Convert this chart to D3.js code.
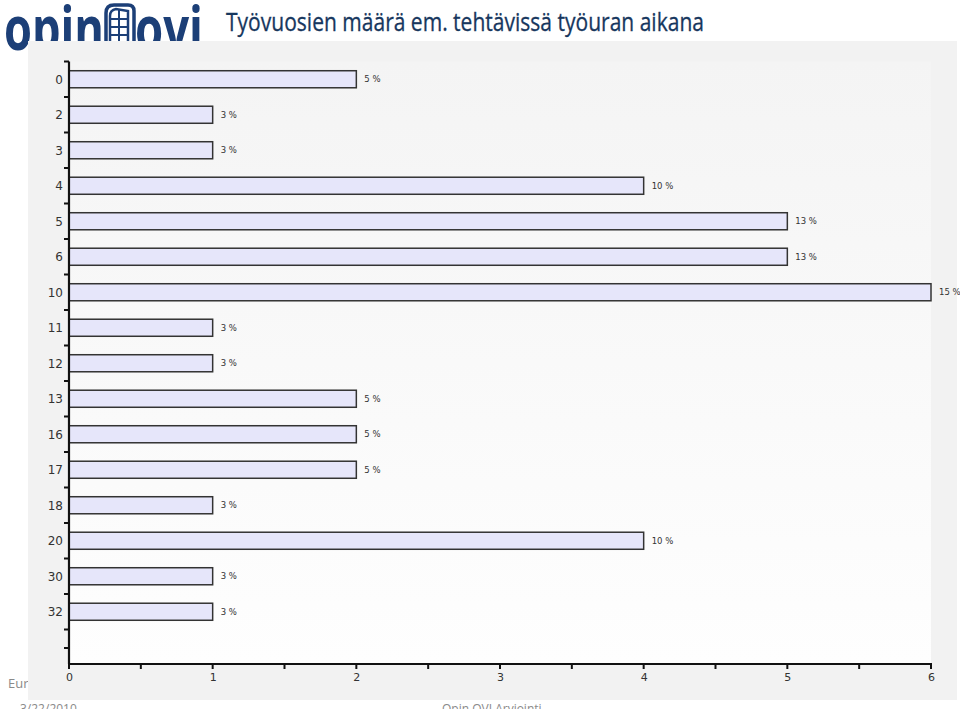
<!DOCTYPE html>
<html><head><meta charset="utf-8">
<script src="https://cdn.jsdelivr.net/npm/d3@7"></script>
<style>
html,body{margin:0;padding:0;background:#fff;overflow:hidden}
svg{display:block}
</style></head>
<body>
<script>
const categories = ["0","2","3","4","5","6","10","11","12","13","16","17","18","20","30","32"];
const values = [2,1,1,4,5,5,6,1,1,2,2,2,1,4,1,1];
const percentLabels = ["5 %","3 %","3 %","10 %","13 %","13 %","15 %","3 %","3 %","5 %","5 %","5 %","3 %","10 %","3 %","3 %"];
const xTicks = [0,1,2,3,4,5,6];
const titleText = "Työvuosien määrä em. tehtävissä työuran aikana";

const W = 960, H = 709;
const svg = d3.select("body").append("svg").attr("width", W).attr("height", H);

// footer texts (partially hidden behind panel, as in the reference)
svg.append("text").attr("x", 8).attr("y", 688).attr("font-family", "Open Sans, sans-serif")
  .attr("font-size", 13).attr("fill", "#8a8a8a").text("Euro");
svg.append("text").attr("x", 20).attr("y", 713).attr("font-family", "Open Sans, sans-serif")
  .attr("font-size", 12).attr("fill", "#8a8a8a").text("3/22/2010");
svg.append("text").attr("x", 442).attr("y", 713).attr("font-family", "Open Sans, sans-serif")
  .attr("font-size", 12).attr("fill", "#8a8a8a").text("Opin OVI Arviointi");

// logo
const logo = svg.append("g");
const logoColor = "#1c3f77";
logo.append("text").attr("x", 4).attr("y", 50).attr("font-family", "Open Sans, sans-serif")
  .attr("font-weight", "bold").attr("font-size", 60).attr("fill", logoColor)
  .attr("textLength", 100).attr("lengthAdjust", "spacingAndGlyphs").text("opin");
logo.append("text").attr("x", 135).attr("y", 50).attr("font-family", "Open Sans, sans-serif")
  .attr("font-weight", "bold").attr("font-size", 60).attr("fill", logoColor)
  .attr("textLength", 68).attr("lengthAdjust", "spacingAndGlyphs").text("ovi");
// door icon
const dg = logo.append("g");
dg.append("path").attr("d", "M106,44 L106,13 Q106,5 114,5 L128,5 Q134,5 134,11 L134,44 Z")
  .attr("fill", "none").attr("stroke", logoColor).attr("stroke-width", 3.5);
dg.append("path").attr("d", "M110,44 L110,16 Q110,10 116,9 L128,11 L128,44 Z")
  .attr("fill", "#fff").attr("stroke", logoColor).attr("stroke-width", 2.5);
dg.append("line").attr("x1", 119).attr("x2", 119).attr("y1", 10).attr("y2", 44).attr("stroke", logoColor).attr("stroke-width", 2);
[19, 27, 35].forEach(y => dg.append("line").attr("x1", 110).attr("x2", 128).attr("y1", y).attr("y2", y).attr("stroke", logoColor).attr("stroke-width", 2));

// title
svg.append("text").attr("x", 226).attr("y", 31).attr("font-family", "'Open Sans', sans-serif")
  .attr("font-size", 25).attr("fill", "#17375e").attr("stroke", "#17375e").attr("stroke-width", 0.3)
  .attr("textLength", 478).attr("lengthAdjust", "spacingAndGlyphs").text(titleText);

// panel
svg.append("rect").attr("x", 28).attr("y", 41).attr("width", 929).attr("height", 659).attr("fill", "#f2f2f2");

const defs = svg.append("defs");
const grad = defs.append("linearGradient").attr("id", "pg").attr("x1", 0).attr("x2", 0).attr("y1", 0).attr("y2", 1);
grad.append("stop").attr("offset", "0%").attr("stop-color", "#f4f4f4");
grad.append("stop").attr("offset", "100%").attr("stop-color", "#fefefe");

const plot = {left: 69, right: 931, top: 61.5, bottom: 664};
svg.append("rect").attr("x", plot.left).attr("y", plot.top).attr("width", plot.right - plot.left)
  .attr("height", plot.bottom - plot.top).attr("fill", "url(#pg)");

const x = d3.scaleLinear().domain([0, 6]).range([plot.left, plot.right]);
const y = d3.scaleBand().domain(categories).range([61.5, 629.5]).paddingInner(0.52).paddingOuter(0.26);

const g = svg.append("g");
// bars
g.selectAll("rect.bar").data(values).enter().append("rect").attr("class", "bar")
  .attr("x", x(0)).attr("y", (d, i) => y(categories[i]))
  .attr("width", d => x(d) - x(0)).attr("height", y.bandwidth())
  .attr("fill", "#e6e6fa").attr("stroke", "#333").attr("stroke-width", 1.5);

// value labels
g.selectAll("text.lab").data(values).enter().append("text").attr("class", "lab")
  .attr("x", d => x(d) + 8).attr("y", (d, i) => y(categories[i]) + y.bandwidth() / 2 + 3)
  .attr("font-family", "DejaVu Sans, sans-serif").attr("font-size", 8.5).attr("fill", "#333")
  .text((d, i) => percentLabels[i]);

// y axis
const step = y.step();
const yTickPos = d3.range(categories.length + 1).map(i => 61.5 + i * step);
yTickPos.push(648);
svg.append("line").attr("x1", plot.left).attr("x2", plot.left).attr("y1", plot.top).attr("y2", plot.bottom)
  .attr("stroke", "#111").attr("stroke-width", 2.2);
svg.selectAll("line.yt").data(yTickPos).enter().append("line").attr("class", "yt")
  .attr("x1", plot.left - 5).attr("x2", plot.left).attr("y1", d => d).attr("y2", d => d)
  .attr("stroke", "#111").attr("stroke-width", 2);
svg.selectAll("text.yl").data(categories).enter().append("text").attr("class", "yl")
  .attr("x", 63).attr("y", d => y(d) + y.bandwidth() / 2 + 4.5).attr("text-anchor", "end")
  .attr("font-family", "DejaVu Sans, sans-serif").attr("font-size", 12).attr("fill", "#333").text(d => d);

// x axis
const xAxis = d3.axisBottom(x).tickValues(xTicks).tickSize(0).tickFormat(d3.format("d"));
const xa = svg.append("g").attr("transform", `translate(0,${plot.bottom})`).call(xAxis);
xa.select(".domain").remove();
xa.selectAll("text").attr("font-family", "DejaVu Sans, sans-serif").attr("font-size", 11)
  .attr("fill", "#333").attr("dy", "1.3em");
svg.append("line").attr("x1", plot.left).attr("x2", plot.right + 1).attr("y1", plot.bottom).attr("y2", plot.bottom)
  .attr("stroke", "#111").attr("stroke-width", 2);
const minor = d3.range(0, 6.01, 0.5);
svg.selectAll("line.xt").data(minor).enter().append("line").attr("class", "xt")
  .attr("x1", d => x(d)).attr("x2", d => x(d)).attr("y1", plot.bottom).attr("y2", plot.bottom + 5)
  .attr("stroke", "#111").attr("stroke-width", 2);
</script>
</body></html>
